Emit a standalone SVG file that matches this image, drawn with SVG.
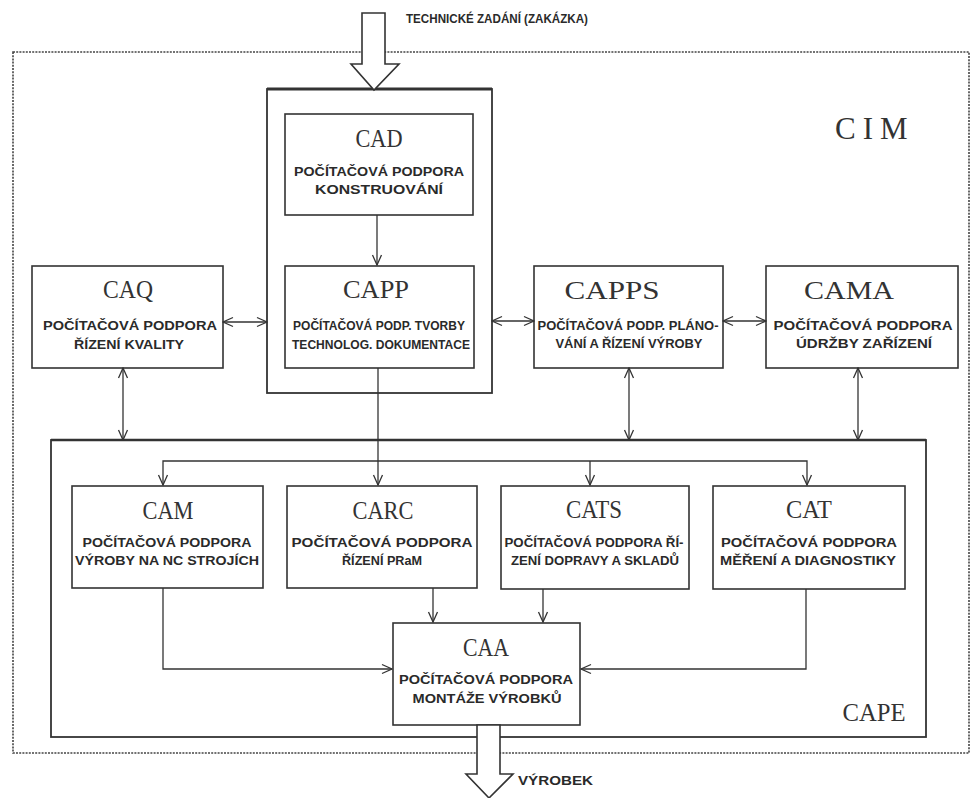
<svg xmlns="http://www.w3.org/2000/svg" width="971" height="798" viewBox="0 0 971 798">
<defs>
<style>
.box{fill:#fff;stroke:#333;stroke-width:1.6}
.frame{fill:none;stroke:#333;stroke-width:1.8}
.dot{fill:none;stroke:#444;stroke-width:1.6;stroke-dasharray:2 1.2}
.hd{font-family:"Liberation Serif","Times New Roman",serif;font-size:26px;fill:#333;text-anchor:middle}
.tx{font-family:"Liberation Sans",Arial,sans-serif;font-size:13px;font-weight:bold;fill:#2a2a2a;text-anchor:middle}
.lb{font-family:"Liberation Sans",Arial,sans-serif;font-size:13px;font-weight:bold;fill:#2a2a2a}
.ln{fill:none;stroke:#333;stroke-width:1.3}
.big{fill:#fff;stroke:#333;stroke-width:1.6;stroke-linejoin:miter}
</style>
<marker id="ah" viewBox="0 0 12 12" refX="11" refY="6" markerWidth="12" markerHeight="12" markerUnits="userSpaceOnUse" orient="auto-start-reverse">
<path d="M1,1.5 L11,6 L1,10.5" fill="none" stroke="#333" stroke-width="1.3"/>
</marker>
</defs>
<rect width="971" height="798" fill="#fff"/>
<g id="cim">
<rect class="dot" x="13" y="52" width="956" height="701"/>
<text x="835" y="139" font-family="'Liberation Serif','Times New Roman',serif" font-size="31" letter-spacing="7" fill="#333">CIM</text>
</g>
<g id="cape">
<rect class="frame" x="51" y="440" width="875" height="297"/>
<line x1="51" y1="440" x2="926" y2="440" stroke="#333" stroke-width="2.6"/>
<text x="874" y="721" class="hd" font-size="26" textLength="63" lengthAdjust="spacingAndGlyphs">CAPE</text>
</g>
<g id="container">
<rect class="frame" x="267" y="89" width="225" height="304"/>
<line x1="267" y1="89" x2="492" y2="89" stroke="#333" stroke-width="3"/>
</g>
<g id="input">
<path class="big" d="M362,13 L385,13 L385,64 L399,64 L374,90 L351,64 L362,64 Z"/>
<text class="lb" x="406" y="23" textLength="182" lengthAdjust="spacingAndGlyphs">TECHNICKÉ ZADÁNÍ (ZAKÁZKA)</text>
</g>
<g id="CAD">
<rect class="box" x="285" y="114" width="188" height="101"/>
<text class="hd" x="379" y="147" textLength="47" lengthAdjust="spacingAndGlyphs">CAD</text>
<text class="tx" x="379" y="176" textLength="170" lengthAdjust="spacingAndGlyphs">POČÍTAČOVÁ PODPORA</text>
<text class="tx" x="379" y="194" textLength="128" lengthAdjust="spacingAndGlyphs">KONSTRUOVÁNÍ</text>
</g>
<g id="CAPP">
<rect class="box" x="285" y="266" width="189" height="102"/>
<text class="hd" x="376" y="298" textLength="66" lengthAdjust="spacingAndGlyphs">CAPP</text>
<text class="tx" x="379" y="330" textLength="172" lengthAdjust="spacingAndGlyphs">POČÍTAČOVÁ PODP. TVORBY</text>
<text class="tx" x="381" y="349" textLength="178" lengthAdjust="spacingAndGlyphs">TECHNOLOG. DOKUMENTACE</text>
</g>
<g id="CAQ">
<rect class="box" x="32" y="266" width="191" height="102"/>
<text class="hd" x="128" y="298" textLength="50" lengthAdjust="spacingAndGlyphs">CAQ</text>
<text class="tx" x="130" y="330" textLength="174" lengthAdjust="spacingAndGlyphs">POČÍTAČOVÁ PODPORA</text>
<text class="tx" x="129" y="349" textLength="110" lengthAdjust="spacingAndGlyphs">ŘÍZENÍ KVALITY</text>
</g>
<g id="CAPPS">
<rect class="box" x="534" y="266" width="189" height="102"/>
<text class="hd" x="612" y="299" textLength="95" lengthAdjust="spacingAndGlyphs">CAPPS</text>
<text class="tx" x="628" y="330" textLength="181" lengthAdjust="spacingAndGlyphs">POČÍTAČOVÁ PODP. PLÁNO-</text>
<text class="tx" x="629" y="348" textLength="147" lengthAdjust="spacingAndGlyphs">VÁNÍ A ŘÍZENÍ VÝROBY</text>
</g>
<g id="CAMA">
<rect class="box" x="766" y="266" width="192" height="102"/>
<text class="hd" x="849" y="299" textLength="90" lengthAdjust="spacingAndGlyphs">CAMA</text>
<text class="tx" x="863" y="330" textLength="179" lengthAdjust="spacingAndGlyphs">POČÍTAČOVÁ PODPORA</text>
<text class="tx" x="864" y="348" textLength="136" lengthAdjust="spacingAndGlyphs">ÚDRŽBY ZAŘÍZENÍ</text>
</g>
<g id="CAM">
<rect class="box" x="72" y="486" width="191" height="102"/>
<text class="hd" x="168" y="519" textLength="51" lengthAdjust="spacingAndGlyphs">CAM</text>
<text class="tx" x="167" y="547" textLength="169" lengthAdjust="spacingAndGlyphs">POČÍTAČOVÁ PODPORA</text>
<text class="tx" x="167" y="565" textLength="184" lengthAdjust="spacingAndGlyphs">VÝROBY NA NC STROJÍCH</text>
</g>
<g id="CARC">
<rect class="box" x="287" y="486" width="190" height="102"/>
<text class="hd" x="383" y="519" textLength="61" lengthAdjust="spacingAndGlyphs">CARC</text>
<text class="tx" x="382" y="547" textLength="181" lengthAdjust="spacingAndGlyphs">POČÍTAČOVÁ PODPORA</text>
<text class="tx" x="382" y="565" textLength="80" lengthAdjust="spacingAndGlyphs">ŘÍZENÍ PRaM</text>
</g>
<g id="CATS">
<rect class="box" x="501" y="486" width="188" height="103"/>
<text class="hd" x="594" y="518" textLength="56" lengthAdjust="spacingAndGlyphs">CATS</text>
<text class="tx" x="594" y="547" textLength="179" lengthAdjust="spacingAndGlyphs">POČÍTAČOVÁ PODPORA ŘÍ-</text>
<text class="tx" x="595" y="565" textLength="168" lengthAdjust="spacingAndGlyphs">ZENÍ DOPRAVY A SKLADŮ</text>
</g>
<g id="CAT">
<rect class="box" x="713" y="486" width="192" height="103"/>
<text class="hd" x="809" y="518" textLength="46" lengthAdjust="spacingAndGlyphs">CAT</text>
<text class="tx" x="809" y="547" textLength="176" lengthAdjust="spacingAndGlyphs">POČÍTAČOVÁ PODPORA</text>
<text class="tx" x="808" y="565" textLength="176" lengthAdjust="spacingAndGlyphs">MĚŘENÍ A DIAGNOSTIKY</text>
</g>
<g id="CAA">
<rect class="box" x="393" y="623" width="187" height="102"/>
<text class="hd" x="486" y="656" textLength="46" lengthAdjust="spacingAndGlyphs">CAA</text>
<text class="tx" x="486" y="684" textLength="174" lengthAdjust="spacingAndGlyphs">POČÍTAČOVÁ PODPORA</text>
<text class="tx" x="487" y="703" textLength="149" lengthAdjust="spacingAndGlyphs">MONTÁŽE VÝROBKŮ</text>
</g>
<g id="output">
<path class="big" d="M477,725 L500,725 L500,774 L513,774 L489,798 L466,774 L477,774 Z"/>
<text class="lb" x="518" y="785" textLength="75" lengthAdjust="spacingAndGlyphs">VÝROBEK</text>
</g>
<g id="connectors">
<line class="ln" x1="377" y1="215" x2="377" y2="265" marker-end="url(#ah)"/>
<line class="ln" x1="223" y1="322" x2="267" y2="322" marker-start="url(#ah)" marker-end="url(#ah)"/>
<line class="ln" x1="492" y1="321" x2="534" y2="321" marker-start="url(#ah)" marker-end="url(#ah)"/>
<line class="ln" x1="723" y1="321" x2="766" y2="321" marker-start="url(#ah)" marker-end="url(#ah)"/>
<line class="ln" x1="123" y1="368" x2="123" y2="440" marker-start="url(#ah)" marker-end="url(#ah)"/>
<line class="ln" x1="629" y1="368" x2="629" y2="440" marker-start="url(#ah)" marker-end="url(#ah)"/>
<line class="ln" x1="858" y1="368" x2="858" y2="440" marker-start="url(#ah)" marker-end="url(#ah)"/>
<line class="ln" x1="378" y1="368" x2="378" y2="485" marker-end="url(#ah)"/>
<polyline class="ln" points="163,485 163,461 807,461 807,485" marker-start="url(#ah)" marker-end="url(#ah)" stroke-width="2"/>
<line class="ln" x1="590" y1="461" x2="590" y2="485" marker-end="url(#ah)"/>
<polyline class="ln" points="163,588 163,669 392,669" marker-end="url(#ah)"/>
<polyline class="ln" points="806,589 806,669 581,669" marker-end="url(#ah)"/>
<line class="ln" x1="433" y1="588" x2="433" y2="622" marker-end="url(#ah)"/>
<line class="ln" x1="543" y1="589" x2="543" y2="622" marker-end="url(#ah)"/>
</g>
</svg>
